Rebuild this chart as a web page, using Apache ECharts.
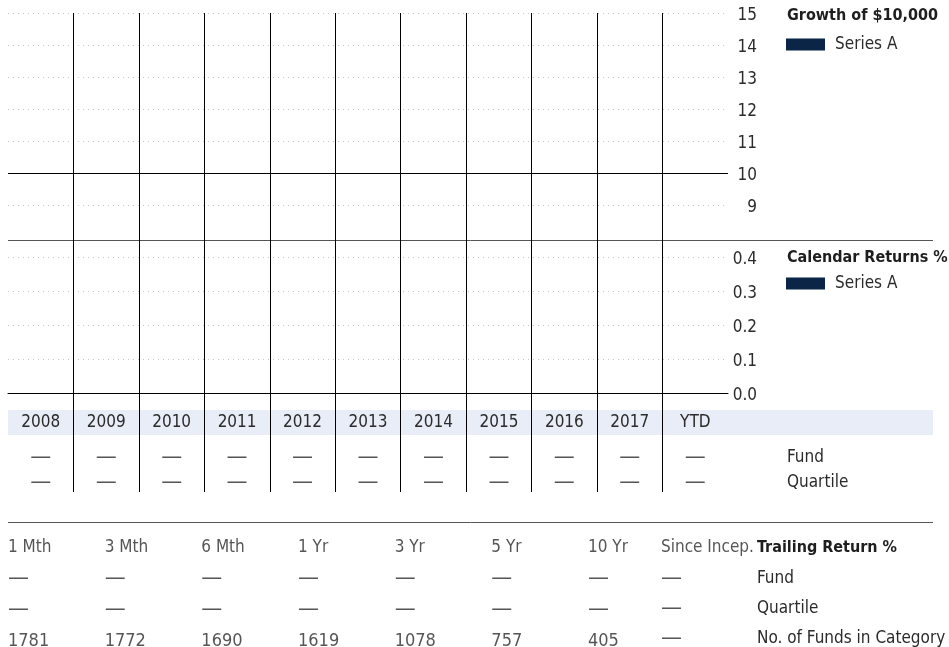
<!DOCTYPE html>
<html>
<head>
<meta charset="utf-8">
<script src="https://cdn.jsdelivr.net/npm/echarts@6/dist/echarts.min.js"></script>
<style>
  html, body { margin: 0; padding: 0; background: #fff; }
  #chart { width: 949px; height: 647px; }
</style>
</head>
<body>
<div id="chart"></div>
<script>
// Calendar years shown along the top two panels and the returns table
const years = ['2008', '2009', '2010', '2011', '2012', '2013', '2014', '2015', '2016', '2017', 'YTD'];

// Growth of $10,000 (thousands) – no history available yet
const growthValues = [null, null, null, null, null, null, null, null, null, null, null];
const growthBaseline = 10;

// Calendar returns % – no history available yet
const calendarValues = [null, null, null, null, null, null, null, null, null, null, null];
const calendarFund = [null, null, null, null, null, null, null, null, null, null, null];
const calendarQuartile = [null, null, null, null, null, null, null, null, null, null, null];
const calendarRows = ['Fund', 'Quartile'];

// Trailing returns
const periods = ['1 Mth', '3 Mth', '6 Mth', '1 Yr', '3 Yr', '5 Yr', '10 Yr', 'Since Incep.'];
const trailingFund = [null, null, null, null, null, null, null, null];
const trailingQuartile = [null, null, null, null, null, null, null, null];
const fundsInCategory = [1781, 1772, 1690, 1619, 1078, 757, 405, null];
const trailingRows = ['Trailing Return %', 'Fund', 'Quartile', 'No. of Funds in Category'];

const FONT = "'Liberation Sans Narrow', 'DejaVu Sans Condensed', 'Roboto', sans-serif";
const DASH_FONT = "'DejaVu Sans', sans-serif";
const TEXT = '#2b2b2b';
const NAVY = '#0b2547';
const DOT = '#c4c4c4';

const chart = echarts.init(document.getElementById('chart'), null, { renderer: 'canvas' });

const isEmpty = v => v === null || v === undefined;

// calendar table cells
const calendarCells = [];
years.forEach((y, i) => {
  calendarCells.push({ value: [i, 0], cell: calendarFund[i] });
  calendarCells.push({ value: [i, 1], cell: calendarQuartile[i] });
});

// trailing table cells split by kind: headers, missing values, numbers
function trailingCells(from, to, kind) {
  const out = [];
  for (let i = from; i < to; i++) {
    const col = i - from;
    const rows = [periods[i], trailingFund[i], trailingQuartile[i], fundsInCategory[i]];
    rows.forEach((v, r) => {
      const k = r === 0 ? 'head' : (isEmpty(v) ? 'empty' : 'number');
      if (k === kind) out.push({ value: [col, r], cell: v });
    });
  }
  return out;
}

// left-aligned cell text starting at the column position
const labelFor = (kind) => ({
  show: true,
  position: 'inside',
  align: 'left',
  verticalAlign: 'middle',
  color: TEXT,
  textBorderWidth: 0,
  fontFamily: kind === 'empty' ? DASH_FONT : FONT,
  fontSize: kind === 'empty' ? 21 : (kind === 'number' ? 18 : 17),
  formatter: p => isEmpty(p.data.cell) ? '—' : String(p.data.cell)
});

// tick labels sit slightly below their gridlines
const tickLabel = (text) => '{t|' + text + '}';
const tickRich = { t: { fontFamily: FONT, fontSize: 17, color: TEXT, padding: [5, 0, 0, 0] } };

const hiddenAxis = {
  axisLine: { show: false }, axisTick: { show: false }, axisLabel: { show: false }, splitLine: { show: false }
};

const trailingSeries = [];
[[4, 0, 7], [5, 7, 8]].forEach(([axis, from, to]) => {
  ['head', 'empty', 'number'].forEach(kind => {
    trailingSeries.push({
      type: 'scatter', xAxisIndex: axis, yAxisIndex: axis, data: trailingCells(from, to, kind),
      symbolSize: 1, itemStyle: { color: 'rgba(0,0,0,0)' }, silent: true, label: labelFor(kind)
    });
  });
});

const option = {
  animation: false,
  backgroundColor: '#fff',
  textStyle: { fontFamily: FONT },
  title: [
    { text: 'Growth of $10,000', left: 787, top: 8, padding: 0,
      textStyle: { fontFamily: FONT, fontSize: 16, fontWeight: 'bold', color: '#1e1e1e' } },
    { text: 'Calendar Returns %', left: 787, top: 250, padding: 0,
      textStyle: { fontFamily: FONT, fontSize: 16, fontWeight: 'bold', color: '#1e1e1e' } }
  ],
  legend: [
    { data: ['Series A'], left: 786, top: 36, padding: 0, icon: 'rect', itemWidth: 39, itemHeight: 12,
      itemGap: 10, textStyle: { fontFamily: FONT, fontSize: 17, color: TEXT, padding: [0, 0, 0, 5] }, selectedMode: false },
    { data: ['Series A'], left: 786, top: 275, padding: 0, icon: 'rect', itemWidth: 39, itemHeight: 12,
      itemGap: 10, textStyle: { fontFamily: FONT, fontSize: 17, color: TEXT, padding: [0, 0, 0, 5] }, selectedMode: false }
  ],
  graphic: [
    { type: 'rect', z: -10, shape: { x: 8, y: 410, width: 925, height: 25 }, style: { fill: '#e9edf7' } },
    { type: 'line', shape: { x1: 8, y1: 240.5, x2: 933, y2: 240.5 }, style: { stroke: '#555', lineWidth: 1 } },
    { type: 'line', shape: { x1: 8, y1: 522.5, x2: 933, y2: 522.5 }, style: { stroke: '#555', lineWidth: 1 } }
  ],
  grid: [
    { left: 8, top: 13, width: 720, height: 224 },          // growth panel
    { left: 8, top: 240, width: 720, height: 153 },         // calendar returns panel
    { left: 8, top: 13, width: 720, height: 479 },          // year column dividers
    { left: 8, top: 445, width: 720, height: 50 },          // calendar table rows
    { left: 8, top: 548, width: 580, height: 93 },          // trailing periods
    { left: 660, top: 548, width: 2, height: 93 }           // since inception column
  ],
  xAxis: [
    { gridIndex: 0, type: 'category', data: years, ...hiddenAxis },
    { gridIndex: 1, type: 'category', data: years,
      axisLine: { show: true, lineStyle: { color: '#000', width: 1 } },
      axisTick: { show: false },
      axisLabel: { show: true, margin: 17, lineHeight: 25, fontFamily: FONT, fontSize: 17, color: TEXT, interval: 0 },
      splitLine: { show: false } },
    { gridIndex: 2, type: 'category', data: years,
      axisLine: { show: false }, axisTick: { show: false }, axisLabel: { show: false },
      splitLine: { show: true, interval: 0, showMinLine: false, showMaxLine: false, lineStyle: { color: '#000', width: 1 } } },
    { gridIndex: 3, type: 'category', data: years, ...hiddenAxis },
    { gridIndex: 4, type: 'category', data: periods.slice(0, 7), boundaryGap: false, ...hiddenAxis },
    { gridIndex: 5, type: 'category', data: periods.slice(7), ...hiddenAxis }
  ],
  yAxis: [
    { gridIndex: 0, type: 'value', position: 'right', min: 8, max: 15, interval: 1,
      axisLine: { show: false }, axisTick: { show: false },
      axisLabel: { showMinLabel: false, align: 'right', margin: 29, formatter: v => tickLabel(v), rich: tickRich },
      splitLine: { show: true, showMinLine: false, lineStyle: { color: DOT, type: [1, 4], width: 1 } } },
    { gridIndex: 1, type: 'value', position: 'right', min: 0, max: 0.45, interval: 0.1,
      axisLine: { show: false }, axisTick: { show: false },
      axisLabel: { showMaxLabel: false, align: 'right', margin: 29, formatter: v => tickLabel(v.toFixed(1)), rich: tickRich },
      splitLine: { show: true, showMinLine: false, showMaxLine: false, lineStyle: { color: DOT, type: [1, 4], width: 1 } } },
    { gridIndex: 2, type: 'value', ...hiddenAxis },
    { gridIndex: 3, type: 'category', data: calendarRows, inverse: true, position: 'right',
      axisLine: { show: false }, axisTick: { show: false }, splitLine: { show: false },
      axisLabel: { show: true, align: 'left', margin: 59, fontFamily: FONT, fontSize: 17, color: TEXT } },
    { gridIndex: 4, type: 'category', data: trailingRows, inverse: true, boundaryGap: false, ...hiddenAxis },
    { gridIndex: 5, type: 'category', data: trailingRows, inverse: true, boundaryGap: false, position: 'right',
      axisLine: { show: false }, axisTick: { show: false }, splitLine: { show: false },
      axisLabel: { show: true, align: 'left', margin: 95, fontFamily: FONT, fontSize: 17, color: TEXT,
        formatter: v => v === trailingRows[0] ? '{b|' + v + '}' : v,
        rich: { b: { fontFamily: FONT, fontSize: 16, fontWeight: 'bold', color: '#1e1e1e' } } } }
  ],
  series: [
    { name: 'Series A', type: 'line', xAxisIndex: 0, yAxisIndex: 0, data: growthValues,
      itemStyle: { color: NAVY }, lineStyle: { color: NAVY, width: 2 }, showSymbol: false,
      markLine: { silent: true, symbol: 'none', label: { show: false },
        lineStyle: { color: '#000', type: 'solid', width: 1 }, data: [{ yAxis: growthBaseline }] } },
    { name: 'Series A', type: 'bar', xAxisIndex: 1, yAxisIndex: 1, data: calendarValues,
      itemStyle: { color: NAVY }, barWidth: '60%' },
    { type: 'scatter', xAxisIndex: 3, yAxisIndex: 3, data: calendarCells, symbolSize: 1,
      itemStyle: { color: 'rgba(0,0,0,0)' }, silent: true,
      label: { show: true, position: 'inside', color: TEXT,
        formatter: p => isEmpty(p.data.cell) ? '—' : String(p.data.cell),
        fontFamily: DASH_FONT, fontSize: 21 } },
    ...trailingSeries
  ]
};

chart.setOption(option);
</script>
</body>
</html>
